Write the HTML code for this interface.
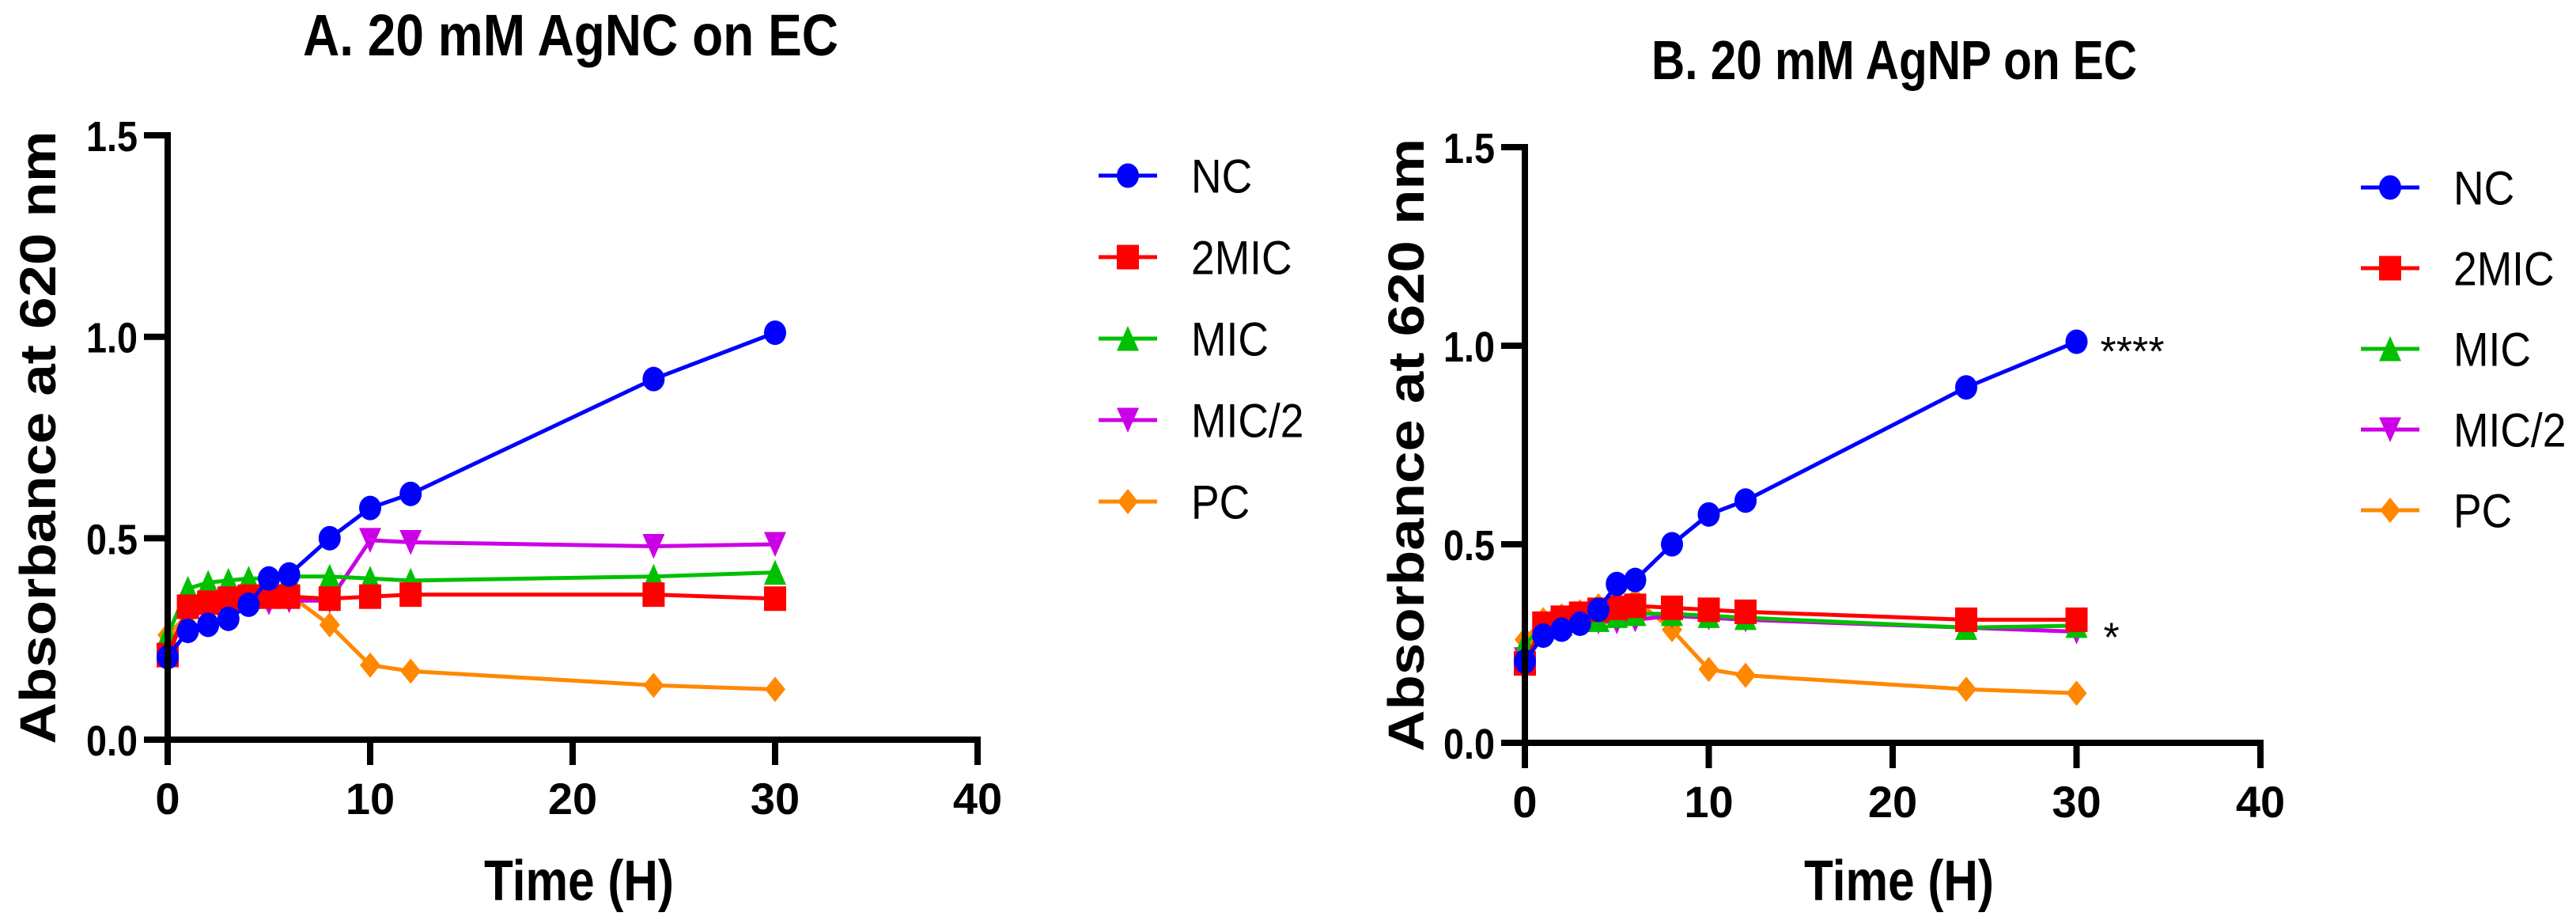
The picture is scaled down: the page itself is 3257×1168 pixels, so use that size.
<!DOCTYPE html>
<html><head><meta charset="utf-8"><style>
html,body{margin:0;padding:0;background:#fff;}
svg{display:block;}
</style></head><body>
<svg id="fig" width="3257" height="1168" viewBox="0 0 3257 1168" xmlns="http://www.w3.org/2000/svg" font-family="'Liberation Sans', sans-serif">
<g id="panelA"></g>
<g id="panelB"></g>
</svg>
<script>
const timePoints = [0,1,2,3,4,5,6,8,10,12,24,30];
const seriesNames = ["NC","2MIC","MIC","MIC/2","PC"];
const xTicks = [0,10,20,30,40];
const yTicks = [0,0.5,1.0,1.5];
const yTickLabels = ["0.0","0.5","1.0","1.5"];
const xTickLabels = ["0","10","20","30","40"];
const aNC   = [0.205,0.27,0.285,0.30,0.335,0.40,0.41,0.50,0.575,0.61,0.895,1.01];
const a2MIC = [0.21,0.33,0.34,0.35,0.355,0.355,0.355,0.35,0.355,0.36,0.36,0.35];
const aMIC  = [0.26,0.375,0.39,0.395,0.40,0.40,0.405,0.405,0.40,0.395,0.405,0.415];
const aMIC2 = [0.21,0.32,0.33,0.335,0.34,0.34,0.345,0.345,0.495,0.49,0.48,0.485];
const aPC   = [0.26,0.31,0.33,0.34,0.35,0.36,0.36,0.285,0.185,0.17,0.135,0.125];
const bNC   = [0.205,0.27,0.285,0.30,0.335,0.40,0.41,0.50,0.575,0.61,0.895,1.01];
const b2MIC = [0.20,0.30,0.315,0.325,0.335,0.34,0.345,0.34,0.335,0.33,0.31,0.31];
const bMIC  = [0.25,0.29,0.30,0.31,0.31,0.32,0.325,0.325,0.32,0.315,0.29,0.295];
const bMIC2 = [0.21,0.28,0.29,0.30,0.305,0.305,0.31,0.32,0.315,0.31,0.29,0.28];
const bPC   = [0.26,0.31,0.32,0.33,0.345,0.355,0.36,0.285,0.185,0.17,0.135,0.125];

const NS="http://www.w3.org/2000/svg";
const colors={"NC":"#0000ff","2MIC":"#ff0000","MIC":"#00c000","MIC/2":"#cc00e6","PC":"#ff8800"};
const shapes={"NC":"circle","2MIC":"square","MIC":"tri","MIC/2":"tridown","PC":"diamond"};

function mk(parent,tag,attrs){const e=document.createElementNS(NS,tag);for(const k in attrs)e.setAttribute(k,attrs[k]);parent.appendChild(e);return e;}

function marker(g,shape,cx,cy,c,s){
  s=s||1;
  const a=14*s,b=15.5*s,h=16*s;
  let e;
  if(shape==="circle") e=mk(g,"ellipse",{cx:cx,cy:cy,rx:a,ry:b,fill:c});
  else if(shape==="square") e=mk(g,"rect",{x:cx-a,y:cy-b,width:2*a,height:2*b,fill:c});
  else if(shape==="tri") e=mk(g,"polygon",{points:`${cx},${cy-h} ${cx+a},${cy+b} ${cx-a},${cy+b}`,fill:c});
  else if(shape==="tridown") e=mk(g,"polygon",{points:`${cx-a},${cy-b} ${cx+a},${cy-b} ${cx},${cy+h}`,fill:c});
  else e=mk(g,"polygon",{points:`${cx},${cy-h} ${cx+13*s},${cy} ${cx},${cy+h} ${cx-13*s},${cy}`,fill:c});
  return e;
}

function panel(gid,cfg,data){
  const g=document.getElementById(gid);
  const X=v=>cfg.x0+v*cfg.xs;
  const Y=v=>cfg.y0-v*cfg.ys;
  const t=mk(g,"text",{x:cfg.titleX,y:cfg.titleY,"font-size":cfg.titleSize,"font-weight":"bold",textLength:cfg.titleW,lengthAdjust:"spacingAndGlyphs"});
  t.textContent=cfg.title;
  
  
  const order=["PC","MIC/2","MIC","2MIC","NC"];
  order.forEach(name=>{
    const vals=data[name];const c=colors[name];
    const sg=mk(g,"g",{});
    
    
    const pts=timePoints.map((tp,i)=>X(tp)+","+Y(vals[i])).join(" ");
    mk(sg,"polyline",{points:pts,fill:"none",stroke:c,"stroke-width":5,"stroke-linejoin":"round"});
    timePoints.forEach((tp,i)=>{
      const m=marker(sg,shapes[name],X(tp),Y(vals[i]),c);
      
      
    });
  });
  const ax=mk(g,"g",{});
  
  
  mk(ax,"line",{x1:X(0),y1:Y(1.5)-4,x2:X(0),y2:cfg.y0+4,stroke:"#000","stroke-width":8});
  mk(ax,"line",{x1:X(0)-30,y1:cfg.y0,x2:X(40)+4,y2:cfg.y0,stroke:"#000","stroke-width":8});
  yTicks.forEach((v,i)=>{
    mk(ax,"line",{x1:X(0)-30,y1:Y(v),x2:X(0),y2:Y(v),stroke:"#000","stroke-width":8});
    const tl=mk(ax,"text",{x:X(0)-38,y:Y(v)+20,"font-size":54,"font-weight":"bold","text-anchor":"end",textLength:65,lengthAdjust:"spacingAndGlyphs"});
    tl.textContent=yTickLabels[i];
    
    
  });
  xTicks.forEach((v,i)=>{
    mk(ax,"line",{x1:X(v),y1:cfg.y0,x2:X(v),y2:cfg.y0+32,stroke:"#000","stroke-width":8});
    const tl=mk(ax,"text",{x:X(v),y:cfg.y0+94,"font-size":56,"font-weight":"bold","text-anchor":"middle"});
    tl.textContent=xTickLabels[i];
    
    
  });
  const xt=mk(g,"text",{x:(X(0)+X(40))/2+8,y:1138,"font-size":72,"font-weight":"bold","text-anchor":"middle",textLength:240,lengthAdjust:"spacingAndGlyphs"});
  xt.textContent="Time (H)";
  
  
  const yc=(Y(1.5)+cfg.y0)/2;
  const yt=mk(g,"text",{x:0,y:0,"font-size":64,"font-weight":"bold","text-anchor":"middle",textLength:775,lengthAdjust:"spacingAndGlyphs",transform:`translate(${cfg.ylabX},${yc}) rotate(-90)`});
  yt.textContent="Absorbance at 620 nm";
  
  
  const lg=mk(g,"g",{});
  
  
  seriesNames.forEach((name,i)=>{
    const y=cfg.legY+i*cfg.legGap;const c=colors[name];
    const eg=mk(lg,"g",{});
    
    
    mk(eg,"line",{x1:cfg.legX,y1:y,x2:cfg.legX+cfg.legLen,y2:y,stroke:c,"stroke-width":5});
    marker(eg,shapes[name],cfg.legX+cfg.legLen/2,y,c,cfg.legScale);
    const lt=mk(eg,"text",{x:cfg.legTextX,y:y+cfg.legFont*0.36,"font-size":cfg.legFont});
    lt.textContent=name;
    
    
    const w=lt.getComputedTextLength();
    lt.setAttribute("textLength",w*0.89);
    lt.setAttribute("lengthAdjust","spacingAndGlyphs");
  });
  (cfg.stars||[]).forEach(s=>{
    const st=mk(g,"text",{x:X(s.x)+s.dx,y:Y(s.y)+30,"font-size":52});
    st.textContent=s.t;
    
    
  });
}

panel("panelA",{x0:212,xs:25.6,y0:935,ys:509.3,title:"A. 20 mM AgNC on EC",titleX:383,titleY:70,titleSize:74,titleW:677,ylabX:70,
  legX:1389,legLen:74,legTextX:1506,legY:222,legGap:103,legFont:60,legScale:1},
  {"NC":aNC,"2MIC":a2MIC,"MIC":aMIC,"MIC/2":aMIC2,"PC":aPC});
panel("panelB",{x0:1928,xs:23.25,y0:939,ys:502,title:"B. 20 mM AgNP on EC",titleX:2088,titleY:100,titleSize:70,titleW:614,ylabX:1800,
  legX:2985,legLen:74,legTextX:3102,legY:237,legGap:102,legFont:60,legScale:1,
  stars:[{x:30,y:1.01,t:"****",dx:30},{x:30,y:0.29,t:"*",dx:34}]},
  {"NC":bNC,"2MIC":b2MIC,"MIC":bMIC,"MIC/2":bMIC2,"PC":bPC});
</script>
</body></html>
